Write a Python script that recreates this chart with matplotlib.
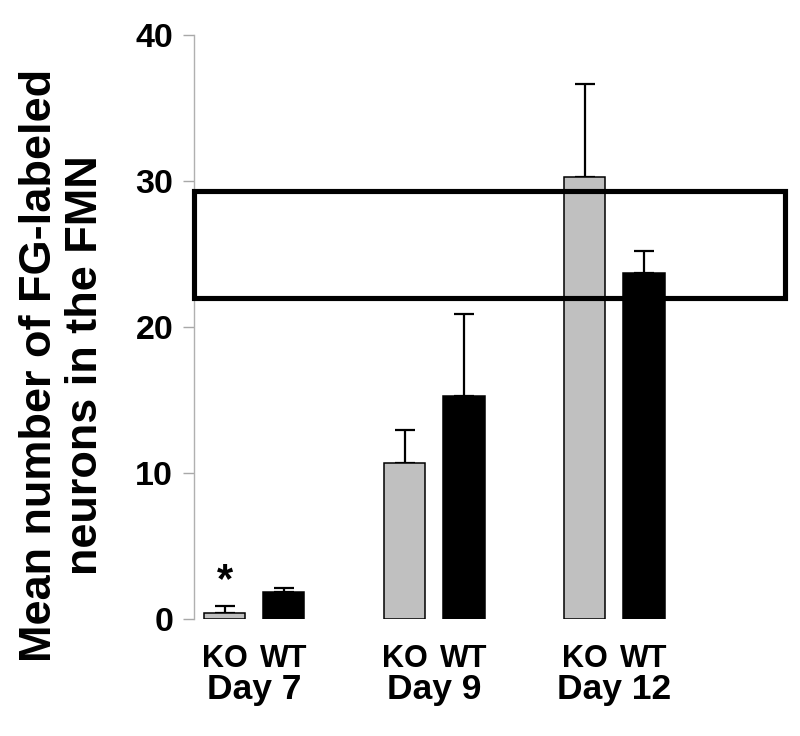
import numpy as np
import matplotlib
matplotlib.use("Agg")
import matplotlib.pyplot as plt
from matplotlib.patches import Rectangle

plt.rcParams["font.family"] = ["Liberation Sans", "DejaVu Sans"]
plt.rcParams["font.weight"] = "bold"

days = ["Day 7", "Day 9", "Day 12"]
genotypes = ["KO", "WT"]
ko_mean = [0.41, 10.7, 30.3]
ko_err = [0.48, 2.25, 6.35]
wt_mean = [1.85, 15.3, 23.7]
wt_err = [0.27, 5.6, 1.5]
significant = [True, False, False]   # asterisk over KO bar
highlight_range = (21.95, 29.3)      # boxed band on the y axis


def main():
    fig = plt.figure(figsize=(8, 7.36), dpi=100)
    ax = fig.add_axes([0.2425, 0.159, 0.745, 0.7935])

    x = np.arange(len(days))
    off = 0.165
    width = 0.228

    ax.bar(x - off, ko_mean, width, color="#c0c0c0", edgecolor="black", linewidth=1.1, zorder=2)
    ax.bar(x + off, wt_mean, width, color="black", edgecolor="black", linewidth=1.1, zorder=2)
    for xs, m, e in [(x - off, ko_mean, ko_err), (x + off, wt_mean, wt_err)]:
        ax.errorbar(xs, m, yerr=[np.zeros(len(e)), e], fmt="none", ecolor="black",
                    elinewidth=1.6, capsize=7.5, capthick=1.6, zorder=1)

    for i, sig in enumerate(significant):
        if sig:
            ax.text(x[i] - off, ko_mean[i] + ko_err[i] + 1.7, "*", ha="center", va="center",
                    fontsize=30, fontweight="bold")

    ax.set_xlim(-0.3347, 2.976)
    ax.set_ylim(0, 40)
    ax.set_yticks([0, 10, 20, 30, 40])
    ax.tick_params(axis="y", direction="out", length=8, width=1, color="#a8a8a8",
                   pad=7, labelsize=24.5)
    ax.set_xticks([])
    for side in ["top", "right", "bottom"]:
        ax.spines[side].set_visible(False)
    ax.spines["left"].set_color("#b0b0b0")
    ax.spines["left"].set_linewidth(1)
    for lab in ax.get_yticklabels():
        lab.set_fontweight("bold")

    trans = ax.get_xaxis_transform()
    for i, d in enumerate(days):
        ax.text(x[i] - off, -0.082, genotypes[0], transform=trans, ha="center",
                va="baseline", fontsize=22, fontweight="bold")
        ax.text(x[i] + off, -0.082, genotypes[1], transform=trans, ha="center",
                va="baseline", fontsize=22, fontweight="bold")
        ax.text(x[i], -0.137, d, transform=trans, ha="center", va="baseline",
                fontsize=25.5, fontweight="bold")

    lo, hi = highlight_range
    box = Rectangle((-0.3347, lo), 2.949 + 0.3347, hi - lo, fill=False,
                    edgecolor="black", linewidth=3.7, zorder=5, clip_on=False)
    ax.add_patch(box)

    fig.text(0.078, 0.504, "Mean number of FG-labeled\nneurons in the FMN", rotation=90,
             ha="center", va="center", fontsize=32.5, fontweight="bold", linespacing=1.15)

    fig.savefig("out.png", dpi=100)


if __name__ == "__main__":
    main()
